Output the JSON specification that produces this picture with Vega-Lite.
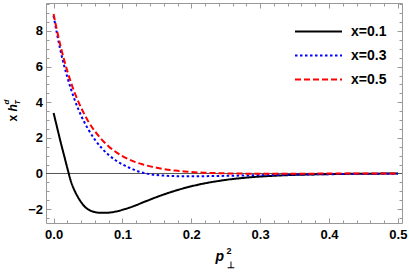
{
  "$schema": "https://vega.github.io/schema/vega-lite/v6.json",
  "width": 356,
  "height": 220,
  "autosize": {"type": "none"},
  "padding": {"left": 46, "top": 3, "right": 7, "bottom": 49},
  "background": "white",
  "config": {
    "view": {"stroke": "#999999", "strokeWidth": 1},
    "axis": {
      "grid": false,
      "domain": false,
      "tickColor": "#999999",
      "tickWidth": 1,
      "labelFont": "Liberation Sans",
      "labelFontWeight": "bold",
      "labelFontSize": 13,
      "labelColor": "black",
      "titleFont": "Liberation Sans",
      "titleColor": "black",
      "titleFontWeight": "bold",
      "titleAlign": "left",
      "titleBaseline": "alphabetic"
    },
    "legend": {
      "orient": "none",
      "legendX": 265.5,
      "legendY": 21.5,
      "title": null,
      "symbolType": "M-4.7,0H4.7",
      "symbolSize": 100,
      "symbolStrokeWidth": 2,
      "labelFont": "Liberation Sans",
      "labelFontWeight": "bold",
      "labelFontSize": 14,
      "labelColor": "black",
      "labelOffset": 25.5,
      "rowPadding": 10,
      "padding": 0
    }
  },
  "data": {
    "values": [
      {"p": 0, "v": 3.4, "series": "x=0.1"},
      {"p": 0.005, "v": 2.6, "series": "x=0.1"},
      {"p": 0.01, "v": 1.8, "series": "x=0.1"},
      {"p": 0.015, "v": 1.05, "series": "x=0.1"},
      {"p": 0.02, "v": 0.3, "series": "x=0.1"},
      {"p": 0.025, "v": -0.42, "series": "x=0.1"},
      {"p": 0.03, "v": -0.92, "series": "x=0.1"},
      {"p": 0.035, "v": -1.3, "series": "x=0.1"},
      {"p": 0.04, "v": -1.61, "series": "x=0.1"},
      {"p": 0.045, "v": -1.85, "series": "x=0.1"},
      {"p": 0.05, "v": -2.01, "series": "x=0.1"},
      {"p": 0.055, "v": -2.11, "series": "x=0.1"},
      {"p": 0.06, "v": -2.17, "series": "x=0.1"},
      {"p": 0.065, "v": -2.2, "series": "x=0.1"},
      {"p": 0.07, "v": -2.21, "series": "x=0.1"},
      {"p": 0.075, "v": -2.21, "series": "x=0.1"},
      {"p": 0.08, "v": -2.2, "series": "x=0.1"},
      {"p": 0.09, "v": -2.14, "series": "x=0.1"},
      {"p": 0.1, "v": -2.04, "series": "x=0.1"},
      {"p": 0.11, "v": -1.92, "series": "x=0.1"},
      {"p": 0.12, "v": -1.78, "series": "x=0.1"},
      {"p": 0.13, "v": -1.62, "series": "x=0.1"},
      {"p": 0.14, "v": -1.47, "series": "x=0.1"},
      {"p": 0.15, "v": -1.32, "series": "x=0.1"},
      {"p": 0.16, "v": -1.18, "series": "x=0.1"},
      {"p": 0.17, "v": -1.05, "series": "x=0.1"},
      {"p": 0.18, "v": -0.93, "series": "x=0.1"},
      {"p": 0.19, "v": -0.82, "series": "x=0.1"},
      {"p": 0.2, "v": -0.72, "series": "x=0.1"},
      {"p": 0.21, "v": -0.63, "series": "x=0.1"},
      {"p": 0.22, "v": -0.55, "series": "x=0.1"},
      {"p": 0.23, "v": -0.48, "series": "x=0.1"},
      {"p": 0.24, "v": -0.42, "series": "x=0.1"},
      {"p": 0.25, "v": -0.36, "series": "x=0.1"},
      {"p": 0.27, "v": -0.27, "series": "x=0.1"},
      {"p": 0.29, "v": -0.2, "series": "x=0.1"},
      {"p": 0.31, "v": -0.15, "series": "x=0.1"},
      {"p": 0.33, "v": -0.11, "series": "x=0.1"},
      {"p": 0.35, "v": -0.08, "series": "x=0.1"},
      {"p": 0.375, "v": -0.055, "series": "x=0.1"},
      {"p": 0.4, "v": -0.035, "series": "x=0.1"},
      {"p": 0.425, "v": -0.022, "series": "x=0.1"},
      {"p": 0.45, "v": -0.014, "series": "x=0.1"},
      {"p": 0.475, "v": -0.008, "series": "x=0.1"},
      {"p": 0.5, "v": -0.005, "series": "x=0.1"},

      {"p": 0, "v": 8.85, "series": "x=0.3"},
      {"p": 0.01, "v": 6.9, "series": "x=0.3"},
      {"p": 0.02, "v": 5.4, "series": "x=0.3"},
      {"p": 0.03, "v": 4.2, "series": "x=0.3"},
      {"p": 0.04, "v": 3.25, "series": "x=0.3"},
      {"p": 0.05, "v": 2.5, "series": "x=0.3"},
      {"p": 0.06, "v": 1.9, "series": "x=0.3"},
      {"p": 0.07, "v": 1.42, "series": "x=0.3"},
      {"p": 0.08, "v": 1.04, "series": "x=0.3"},
      {"p": 0.09, "v": 0.74, "series": "x=0.3"},
      {"p": 0.1, "v": 0.51, "series": "x=0.3"},
      {"p": 0.11, "v": 0.32, "series": "x=0.3"},
      {"p": 0.12, "v": 0.16, "series": "x=0.3"},
      {"p": 0.13, "v": 0.04, "series": "x=0.3"},
      {"p": 0.14, "v": -0.04, "series": "x=0.3"},
      {"p": 0.15, "v": -0.09, "series": "x=0.3"},
      {"p": 0.16, "v": -0.12, "series": "x=0.3"},
      {"p": 0.17, "v": -0.14, "series": "x=0.3"},
      {"p": 0.18, "v": -0.15, "series": "x=0.3"},
      {"p": 0.19, "v": -0.155, "series": "x=0.3"},
      {"p": 0.2, "v": -0.155, "series": "x=0.3"},
      {"p": 0.22, "v": -0.15, "series": "x=0.3"},
      {"p": 0.24, "v": -0.14, "series": "x=0.3"},
      {"p": 0.26, "v": -0.125, "series": "x=0.3"},
      {"p": 0.28, "v": -0.11, "series": "x=0.3"},
      {"p": 0.3, "v": -0.095, "series": "x=0.3"},
      {"p": 0.33, "v": -0.075, "series": "x=0.3"},
      {"p": 0.36, "v": -0.058, "series": "x=0.3"},
      {"p": 0.4, "v": -0.04, "series": "x=0.3"},
      {"p": 0.45, "v": -0.025, "series": "x=0.3"},
      {"p": 0.5, "v": -0.015, "series": "x=0.3"},

      {"p": 0, "v": 8.95, "series": "x=0.5"},
      {"p": 0.01, "v": 7.17, "series": "x=0.5"},
      {"p": 0.02, "v": 5.75, "series": "x=0.5"},
      {"p": 0.03, "v": 4.6, "series": "x=0.5"},
      {"p": 0.04, "v": 3.69, "series": "x=0.5"},
      {"p": 0.05, "v": 2.95, "series": "x=0.5"},
      {"p": 0.06, "v": 2.37, "series": "x=0.5"},
      {"p": 0.07, "v": 1.9, "series": "x=0.5"},
      {"p": 0.08, "v": 1.52, "series": "x=0.5"},
      {"p": 0.09, "v": 1.22, "series": "x=0.5"},
      {"p": 0.1, "v": 0.97, "series": "x=0.5"},
      {"p": 0.11, "v": 0.78, "series": "x=0.5"},
      {"p": 0.12, "v": 0.62, "series": "x=0.5"},
      {"p": 0.13, "v": 0.5, "series": "x=0.5"},
      {"p": 0.14, "v": 0.4, "series": "x=0.5"},
      {"p": 0.15, "v": 0.32, "series": "x=0.5"},
      {"p": 0.16, "v": 0.25, "series": "x=0.5"},
      {"p": 0.17, "v": 0.19, "series": "x=0.5"},
      {"p": 0.18, "v": 0.15, "series": "x=0.5"},
      {"p": 0.19, "v": 0.11, "series": "x=0.5"},
      {"p": 0.2, "v": 0.08, "series": "x=0.5"},
      {"p": 0.22, "v": 0.04, "series": "x=0.5"},
      {"p": 0.24, "v": 0.015, "series": "x=0.5"},
      {"p": 0.26, "v": 0.0, "series": "x=0.5"},
      {"p": 0.28, "v": -0.01, "series": "x=0.5"},
      {"p": 0.3, "v": -0.012, "series": "x=0.5"},
      {"p": 0.35, "v": -0.01, "series": "x=0.5"},
      {"p": 0.4, "v": -0.007, "series": "x=0.5"},
      {"p": 0.45, "v": -0.004, "series": "x=0.5"},
      {"p": 0.5, "v": -0.002, "series": "x=0.5"}
    ]
  },
  "layer": [
    {
      "data": {"values": [{"y0": 0}]},
      "mark": {"type": "rule", "color": "#555555", "strokeWidth": 1},
      "encoding": {
        "y": {"field": "y0", "type": "quantitative", "scale": {"domain": [-2.78, 9.57], "nice": false, "zero": false}, "axis": null}
      }
    },
    {
      "mark": {"type": "line", "strokeWidth": 2, "interpolate": "monotone"},
      "encoding": {
        "x": {
          "field": "p", "type": "quantitative",
          "scale": {"domain": [-0.011, 0.506], "nice": false, "zero": false},
          "axis": {"orient": "bottom", "values": [0, 0.1, 0.2, 0.3, 0.4, 0.5], "format": ".1f", "tickSize": -5, "labelPadding": 10,
                   "title": "p", "titleFontStyle": "italic", "titleFontSize": 14, "titleX": 169, "titleY": 37, "titleAngle": 0}
        },
        "y": {
          "field": "v", "type": "quantitative",
          "scale": {"domain": [-2.78, 9.57], "nice": false, "zero": false},
          "axis": {"orient": "left", "values": [-2, 0, 2, 4, 6, 8], "format": "d", "tickSize": -5, "labelPadding": 8.5,
                   "title": "x", "titleFontSize": 12, "titleAngle": 270, "titleX": -30, "titleY": 118}
        },
        "color": {
          "field": "series", "type": "nominal",
          "scale": {"domain": ["x=0.1", "x=0.3", "x=0.5"], "range": ["#000000", "#0000ff", "#ff0000"]},
          "legend": {"title": null}
        },
        "strokeDash": {
          "field": "series", "type": "nominal",
          "scale": {"domain": ["x=0.1", "x=0.3", "x=0.5"], "range": [[1, 0], [2.5, 2.5], [6, 3]]},
          "legend": {"title": null}
        }
      }
    },
    {
      "mark": {"type": "line", "strokeOpacity": 0},
      "encoding": {
        "x": {
          "field": "p", "type": "quantitative",
          "scale": {"domain": [-0.011, 0.506], "nice": false, "zero": false},
          "axis": {"orient": "bottom", "values": [0, 0.02, 0.04, 0.06, 0.08, 0.1, 0.12, 0.14, 0.16, 0.18, 0.2, 0.22, 0.24, 0.26, 0.28, 0.3, 0.32, 0.34, 0.36, 0.38, 0.4, 0.42, 0.44, 0.46, 0.48, 0.5],
                   "tickSize": -3, "labels": false,
                   "title": "2", "titleFontSize": 9, "titleX": 180, "titleY": 30, "titleAngle": 0}
        },
        "y": {
          "field": "v", "type": "quantitative",
          "scale": {"domain": [-2.78, 9.57], "nice": false, "zero": false},
          "axis": {"orient": "left", "values": [-2.5, -2, -1.5, -1, -0.5, 0, 0.5, 1, 1.5, 2, 2.5, 3, 3.5, 4, 4.5, 5, 5.5, 6, 6.5, 7, 7.5, 8, 8.5, 9, 9.5],
                   "tickSize": -3, "labels": false,
                   "title": "h", "titleFontStyle": "italic", "titleFontSize": 12, "titleAngle": 270, "titleX": -30, "titleY": 108}
        }
      }
    },
    {
      "mark": {"type": "line", "strokeOpacity": 0},
      "encoding": {
        "x": {
          "field": "p", "type": "quantitative",
          "scale": {"domain": [-0.011, 0.506], "nice": false, "zero": false},
          "axis": {"orient": "top", "values": [0, 0.1, 0.2, 0.3, 0.4, 0.5], "tickSize": -5, "labels": false,
                   "title": "⊥", "titleFontSize": 9, "titleX": 180, "titleY": 264, "titleAngle": 0}
        },
        "y": {
          "field": "v", "type": "quantitative",
          "scale": {"domain": [-2.78, 9.57], "nice": false, "zero": false},
          "axis": {"orient": "right", "values": [-2, 0, 2, 4, 6, 8], "tickSize": -5, "labels": false,
                   "title": "d", "titleFontStyle": "italic", "titleFontSize": 8, "titleAngle": 270, "titleX": -393.5, "titleY": 101}
        }
      }
    },
    {
      "mark": {"type": "line", "strokeOpacity": 0},
      "encoding": {
        "x": {
          "field": "p", "type": "quantitative",
          "scale": {"domain": [-0.011, 0.506], "nice": false, "zero": false},
          "axis": {"orient": "top", "values": [0, 0.02, 0.04, 0.06, 0.08, 0.1, 0.12, 0.14, 0.16, 0.18, 0.2, 0.22, 0.24, 0.26, 0.28, 0.3, 0.32, 0.34, 0.36, 0.38, 0.4, 0.42, 0.44, 0.46, 0.48, 0.5],
                   "tickSize": -3, "labels": false, "title": null}
        },
        "y": {
          "field": "v", "type": "quantitative",
          "scale": {"domain": [-2.78, 9.57], "nice": false, "zero": false},
          "axis": {"orient": "right", "values": [-2.5, -2, -1.5, -1, -0.5, 0, 0.5, 1, 1.5, 2, 2.5, 3, 3.5, 4, 4.5, 5, 5.5, 6, 6.5, 7, 7.5, 8, 8.5, 9, 9.5],
                   "tickSize": -3, "labels": false,
                   "title": "T", "titleFontStyle": "italic", "titleFontSize": 7, "titleAngle": 270, "titleX": -383, "titleY": 101}
        }
      }
    }
  ],
  "resolve": {"axis": {"x": "independent", "y": "independent"}}
}
